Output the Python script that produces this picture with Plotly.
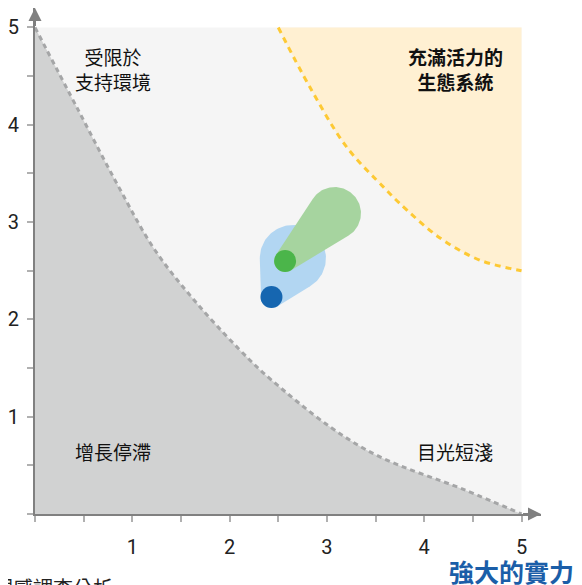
import numpy as np
import plotly.graph_objects as go

# ---------------- data ----------------
AXIS_MAX = 5
AXIS_END = 5.2
tick_vals = [0, 0.5, 1, 1.5, 2, 2.5, 3, 3.5, 4, 4.5, 5]
tick_text = ["", "", "1", "", "2", "", "3", "", "4", "", "5"]

# lower boundary (grey zone)
gray_curve_x = [0, 0.445, 0.85, 1.232, 1.694, 2.207, 2.43, 3.03, 3.54, 4.41, 5]
gray_curve_y = [5, 4.15, 3.38, 2.713, 2.13, 1.583, 1.377, 0.897, 0.589, 0.25, 0]

# upper boundary (yellow zone)
yellow_curve_x = [2.5, 2.823, 3.2, 3.593, 3.747, 4.158, 4.569, 5]
yellow_curve_y = [5, 4.39, 3.775, 3.347, 3.193, 2.84, 2.61, 2.5]

# movement blobs: current dot -> target circle
blob_names = ["藍", "綠"]
dot_x = [2.43, 2.57]
dot_y = [2.23, 2.60]
target_x = [2.65, 3.08]
target_y = [2.63, 3.09]
target_r = [0.34, 0.27]
dot_r = 0.113
dot_colors = ["#1666b0", "#4bb54a"]
blob_colors = ["#b2d6f2", "#a6d49f"]

zone_labels = ["受限於<br>支持環境", "<b>充滿活力的<br>生態系統</b>", "增長停滯", "目光短淺"]
zone_label_x = [0.80, 4.32, 0.80, 4.32]
zone_label_y = [4.57, 4.57, 0.64, 0.64]

x_title = "強大的實力"
source_text = "資料來源：觀感調查分析"

CJK = "Noto Sans CJK TC"

fig = go.Figure()

# background zone
fig.add_shape(type="rect", x0=0, y0=0, x1=AXIS_MAX, y1=AXIS_MAX,
              fillcolor="#f5f5f5", line_width=0, layer="below")

# grey zone fill
fig.add_trace(go.Scatter(x=gray_curve_x, y=gray_curve_y, mode="lines",
                         line=dict(width=0, shape="spline", color="rgba(0,0,0,0)"),
                         fill="tozeroy", fillcolor="#d1d2d2", hoverinfo="skip"))
# yellow zone fill: base at top, then curve filling to it
fig.add_trace(go.Scatter(x=[yellow_curve_x[0], yellow_curve_x[-1]], y=[AXIS_MAX, AXIS_MAX],
                         mode="lines", line=dict(width=0, color="rgba(0,0,0,0)"), hoverinfo="skip"))
fig.add_trace(go.Scatter(x=yellow_curve_x, y=yellow_curve_y, mode="lines",
                         line=dict(width=0, shape="spline", color="rgba(0,0,0,0)"),
                         fill="tonexty", fillcolor="#fff0d2", hoverinfo="skip"))
# dashed boundaries
fig.add_trace(go.Scatter(x=gray_curve_x, y=gray_curve_y, mode="lines",
                         line=dict(width=3, shape="spline", color="#a5a6a7", dash="5px,4px"),
                         hoverinfo="skip"))
fig.add_trace(go.Scatter(x=yellow_curve_x, y=yellow_curve_y, mode="lines",
                         line=dict(width=3, shape="spline", color="#fdc934", dash="6px,5px"),
                         hoverinfo="skip"))


def hull(ax_, ay_, ra, bx, by, rb, n=90):
    """outline of the convex hull of two circles (A big, B small)"""
    dx, dy = bx - ax_, by - ay_
    d = np.hypot(dx, dy)
    phi = np.arctan2(dy, dx)
    beta = np.arccos(np.clip((ra - rb) / d, -1, 1))
    ta = np.linspace(phi + beta, phi + 2 * np.pi - beta, n)
    tb = np.linspace(phi + 2 * np.pi - beta, phi + 2 * np.pi + beta, n)
    xs = np.concatenate([ax_ + ra * np.cos(ta), bx + rb * np.cos(tb)])
    ys = np.concatenate([ay_ + ra * np.sin(ta), by + rb * np.sin(tb)])
    return np.append(xs, xs[0]), np.append(ys, ys[0])


for i in range(len(blob_names)):
    hx, hy = hull(target_x[i], target_y[i], target_r[i], dot_x[i], dot_y[i], dot_r)
    fig.add_trace(go.Scatter(x=hx, y=hy, mode="lines", fill="toself",
                             fillcolor=blob_colors[i], line=dict(width=0, color=blob_colors[i]),
                             hoverinfo="skip", name=blob_names[i]))
for i in range(len(blob_names)):
    fig.add_trace(go.Scatter(x=[dot_x[i]], y=[dot_y[i]], mode="markers",
                             marker=dict(size=22, color=dot_colors[i], line=dict(width=0)),
                             hoverinfo="skip", name=blob_names[i]))

for txt, x, y in zip(zone_labels, zone_label_x, zone_label_y):
    fig.add_annotation(x=x, y=y, text=txt, showarrow=False,
                       font=dict(family=CJK, size=19, color="#111"), align="center")

# axis arrows
fig.add_annotation(x=AXIS_END, y=0, ax=AXIS_MAX, ay=0, axref="x", ayref="y", xref="x", yref="y",
                   text="", showarrow=True, arrowhead=2, arrowsize=1.3, arrowwidth=2,
                   arrowcolor="#808080")
fig.add_annotation(x=0, y=AXIS_END, ax=0, ay=AXIS_MAX, axref="x", ayref="y", xref="x", yref="y",
                   text="", showarrow=True, arrowhead=2, arrowsize=1.3, arrowwidth=2,
                   arrowcolor="#808080")

# x title and source
fig.add_annotation(x=1.07, y=-0.113, xref="paper", yref="paper", xanchor="right", yanchor="middle",
                   text="<b>" + x_title + "</b>", showarrow=False,
                   font=dict(family=CJK, size=25, color="#1b5ea8"))
fig.add_annotation(x=0.158, y=-0.145, xref="paper", yref="paper", xanchor="right", yanchor="middle",
                   text=source_text, showarrow=False,
                   font=dict(family=CJK, size=20, color="#222"))

axis_common = dict(range=[0, AXIS_END], tickmode="array", tickvals=tick_vals, ticktext=tick_text,
                   showgrid=False, zeroline=False, showline=True, linecolor="#808080", linewidth=2,
                   ticks="outside", ticklen=6, tickwidth=1.5, tickcolor="#b0b0b0",
                   tickfont=dict(family="Roboto", size=20, color="#222"), fixedrange=True)

# the page body adds an 8px offset, so margins are reduced accordingly
fig.update_layout(
    width=574, height=577,
    margin=dict(l=27, r=41, t=0, b=71),
    paper_bgcolor="white", plot_bgcolor="white",
    showlegend=False,
    xaxis=dict(**axis_common, ticklabelstandoff=8),
    yaxis=dict(**axis_common, ticklabelstandoff=4),
)

fig.write_html("out.html")
